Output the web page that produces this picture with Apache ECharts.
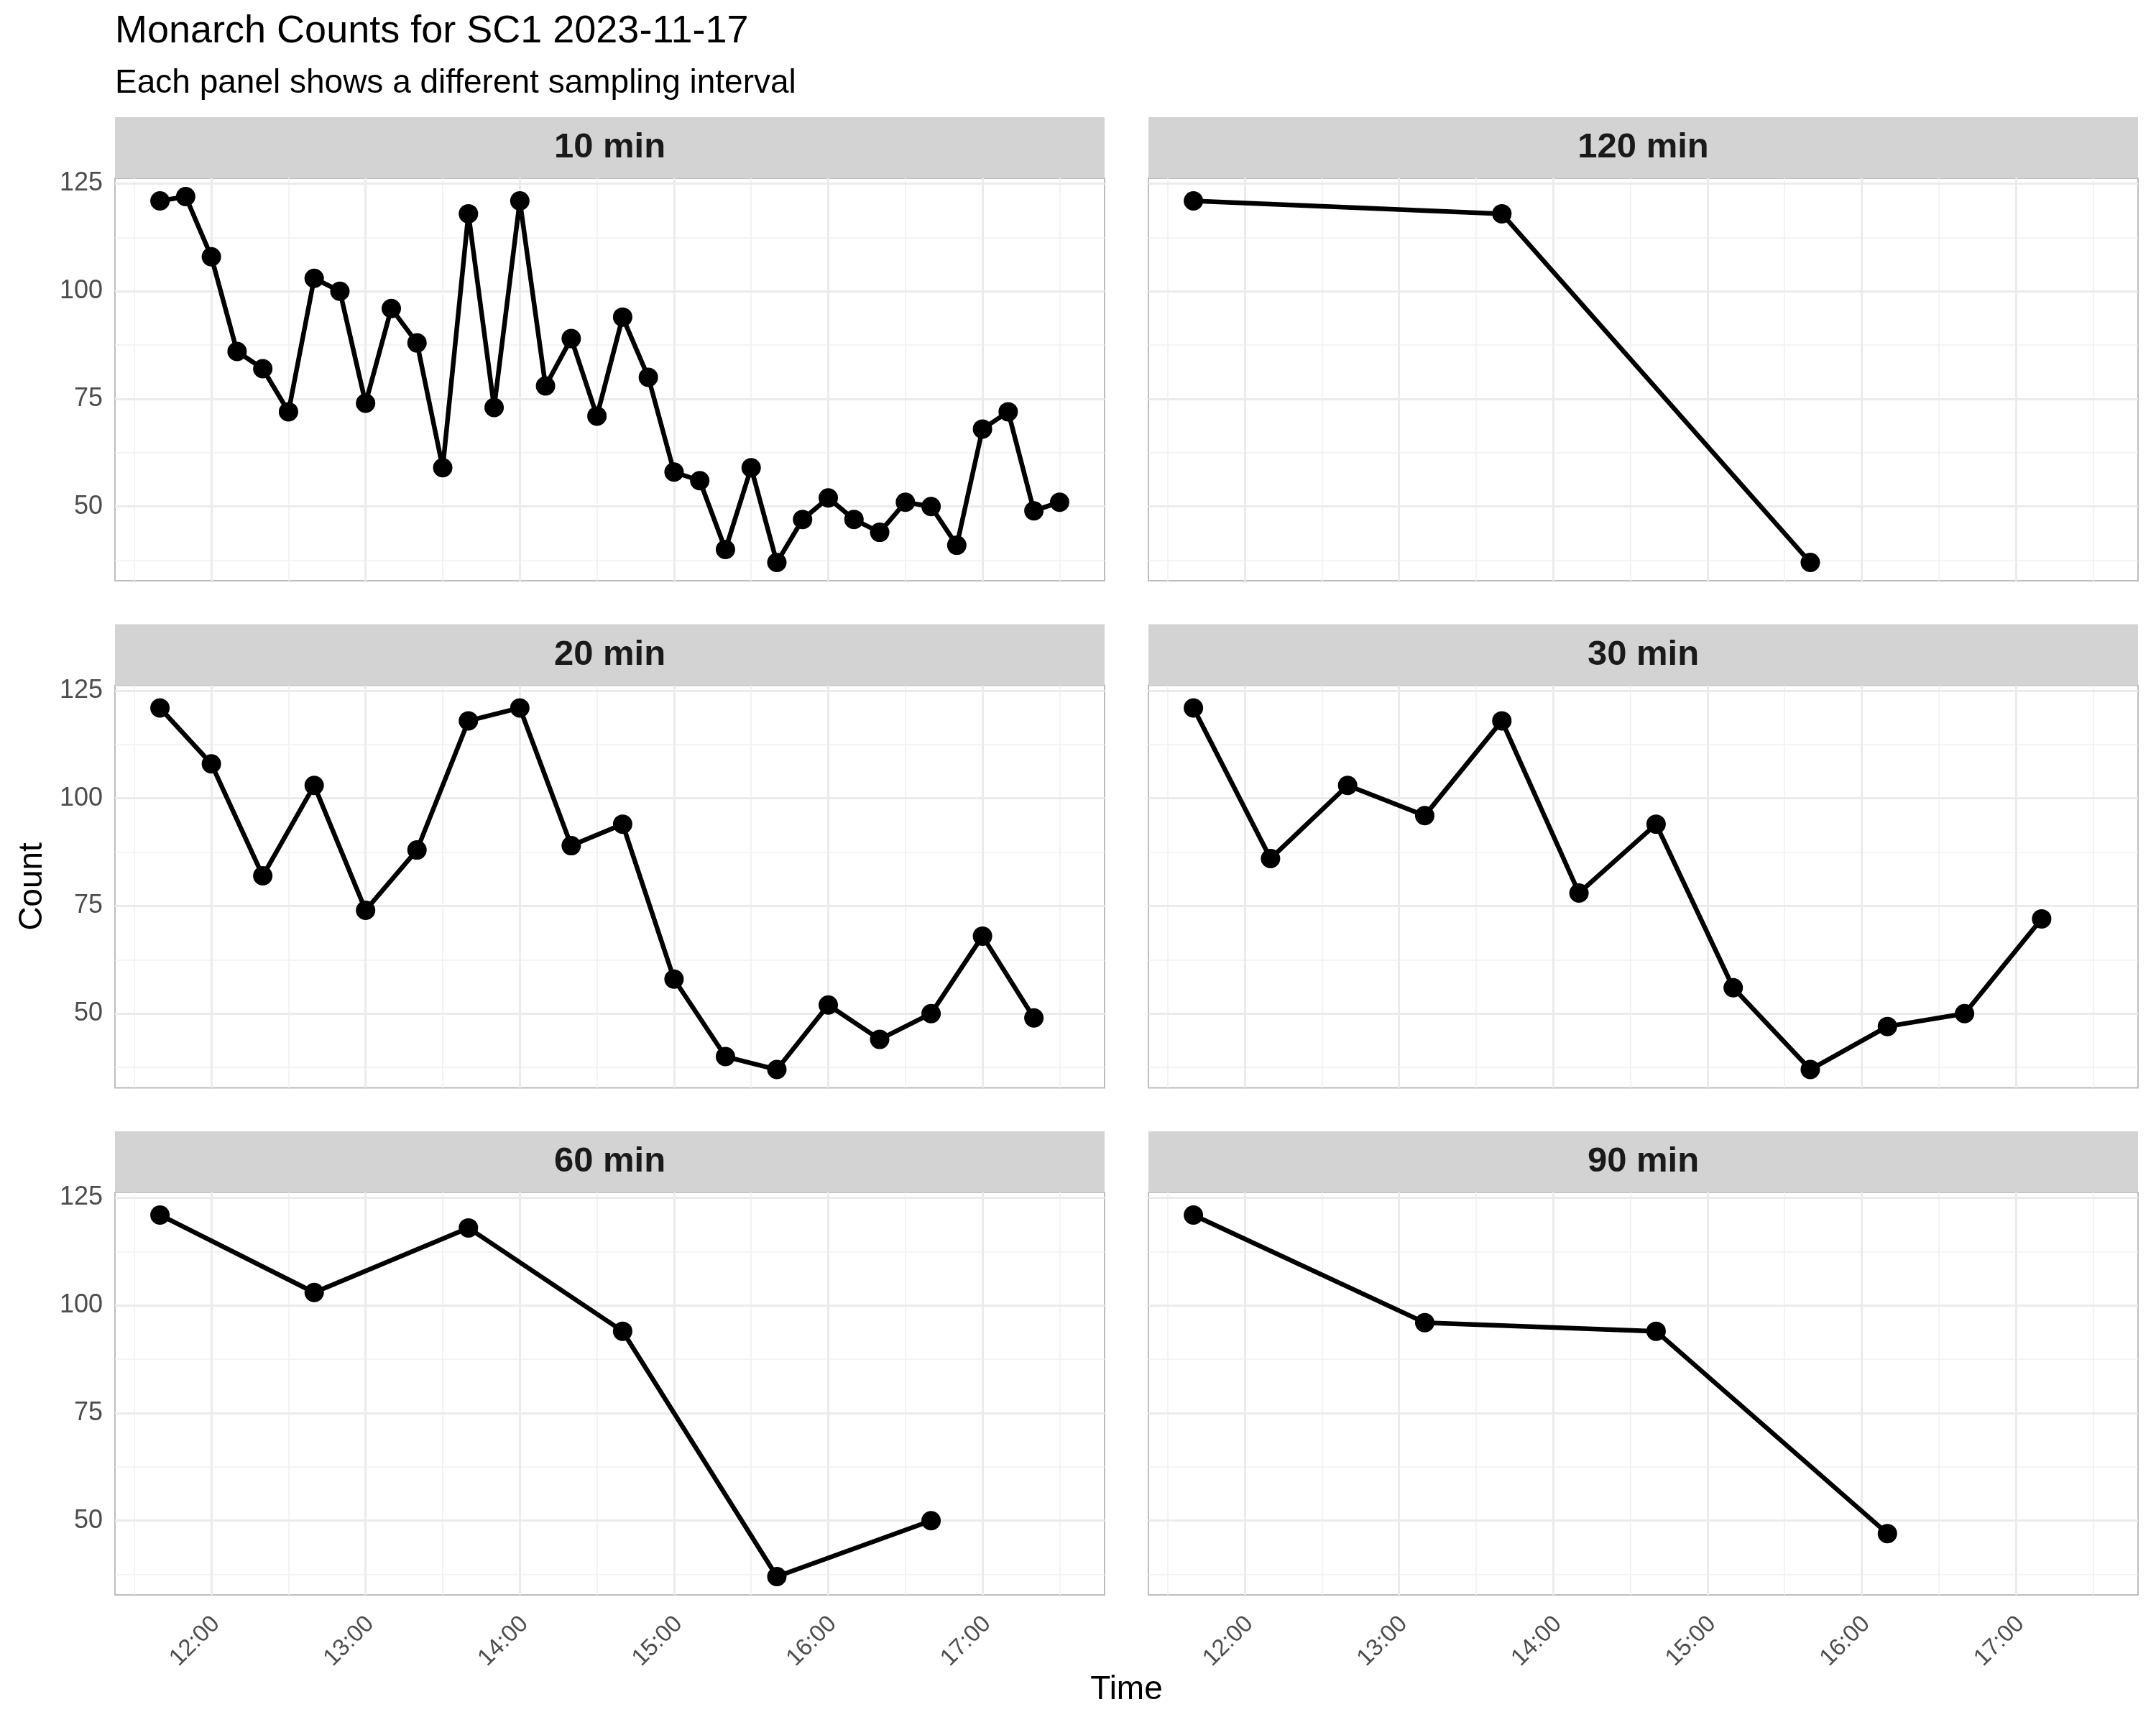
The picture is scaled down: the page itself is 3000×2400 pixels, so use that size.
<!DOCTYPE html>
<html><head><meta charset="utf-8">
<script src="https://cdn.jsdelivr.net/npm/echarts@6/dist/echarts.min.js"></script>
<style>html,body{margin:0;padding:0;background:#fff}#c{width:3000px;height:2400px}</style>
</head><body><div id="c"></div>
<script>
// ---------------- data ----------------
const titleText = 'Monarch Counts for SC1 2023-11-17';
const subtitleText = 'Each panel shows a different sampling interval';
const xAxisTitle = 'Time';
const yAxisTitle = 'Count';

const panelNames = ['10 min', '120 min', '20 min', '30 min', '60 min', '90 min'];

const times10 = ['11:40','11:50','12:00','12:10','12:20','12:30','12:40','12:50','13:00','13:10','13:20','13:30',
                 '13:40','13:50','14:00','14:10','14:20','14:30','14:40','14:50','15:00','15:10','15:20','15:30',
                 '15:40','15:50','16:00','16:10','16:20','16:30','16:40','16:50','17:00','17:10','17:20','17:30'];
const counts10 = [121,122,108,86,82,72,103,100,74,96,88,59,
                  118,73,121,78,89,71,94,80,58,56,40,59,
                  37,47,52,47,44,51,50,41,68,72,49,51];

const times120 = ['11:40','13:40','15:40'];
const counts120 = [121,118,37];

const times20 = ['11:40','12:00','12:20','12:40','13:00','13:20','13:40','14:00','14:20','14:40','15:00','15:20',
                 '15:40','16:00','16:20','16:40','17:00','17:20'];
const counts20 = [121,108,82,103,74,88,118,121,89,94,58,40,37,52,44,50,68,49];

const times30 = ['11:40','12:10','12:40','13:10','13:40','14:10','14:40','15:10','15:40','16:10','16:40','17:10'];
const counts30 = [121,86,103,96,118,78,94,56,37,47,50,72];

const times60 = ['11:40','12:40','13:40','14:40','15:40','16:40'];
const counts60 = [121,103,118,94,37,50];

const times90 = ['11:40','13:10','14:40','16:10'];
const counts90 = [121,96,94,47];

const xTickLabels = ['12:00','13:00','14:00','15:00','16:00','17:00'];
const xMinorTicks = ['11:30','12:30','13:30','14:30','15:30','16:30','17:30'];
const yTickValues = [50, 75, 100, 125];
const yMinorValues = [37.5, 62.5, 87.5, 112.5];

// ---------------- helpers ----------------
const toMin = s => { const p = s.split(':').map(Number); return p[0] * 60 + p[1]; };
const fmt = v => { const h = Math.floor(v / 60), m = Math.round(v - h * 60); return h + ':' + (m < 10 ? '0' : '') + m; };

const panelTimes = [times10, times120, times20, times30, times60, times90];
const panelCounts = [counts10, counts120, counts20, counts30, counts60, counts90];

// ggplot-like 5% expansion of the shared scales
const allT = [].concat(...panelTimes).map(toMin);
const allC = [].concat(...panelCounts);
const tMin = Math.min(...allT), tMax = Math.max(...allT);
const cMin = Math.min(...allC), cMax = Math.max(...allC);
const xMin = tMin - 0.05 * (tMax - tMin), xMax = tMax + 0.05 * (tMax - tMin);
const yMin = cMin - 0.05 * (cMax - cMin), yMax = cMax + 0.05 * (cMax - cMin);

const xMajorVals = xTickLabels.map(toMin);
const xMinorVals = xMinorTicks.map(toMin);

// ---------------- layout ----------------
const FONT = 'Liberation Sans';
const colLeft = [160, 1598];
const colWidth = 1377;
const panelTop = [248, 953.5, 1659];
const panelH = 560;
const stripH = 85;

const grids = [], xAxes = [], yAxes = [], series = [], graphics = [];

panelNames.forEach((name, i) => {
  const row = Math.floor(i / 2), col = i % 2;
  const left = colLeft[col], top = panelTop[row];
  grids.push({
    left: left, top: top, width: colWidth, height: panelH,
    show: true, borderColor: '#BDBDBD', borderWidth: 2, backgroundColor: 'transparent'
  });
  // major x axis
  xAxes.push({
    type: 'value', gridIndex: i, min: xMin, max: xMax, z: 1,
    axisLine: { show: false },
    axisTick: { show: false, customValues: xMajorVals },
    splitLine: { show: true, lineStyle: { color: '#EBEBEB', width: 3 } },
    axisLabel: {
      show: row === 2, customValues: xMajorVals, formatter: v => fmt(v),
      rotate: 45, fontSize: 33, color: '#4D4D4D', fontFamily: FONT, margin: 29,
      verticalAlign: 'top', lineHeight: 18
    }
  });
  // minor x axis (grid only)
  xAxes.push({
    type: 'value', gridIndex: i, min: xMin, max: xMax, z: 0, position: 'bottom',
    axisLine: { show: false },
    axisTick: { show: false, customValues: xMinorVals },
    axisLabel: { show: false },
    splitLine: { show: true, lineStyle: { color: '#F0F0F0', width: 1.6 } }
  });
  // major y axis
  yAxes.push({
    type: 'value', gridIndex: i, min: yMin, max: yMax, z: 1,
    axisLine: { show: false },
    axisTick: { show: false, customValues: yTickValues },
    splitLine: { show: true, lineStyle: { color: '#EBEBEB', width: 3 } },
    axisLabel: {
      show: col === 0, customValues: yTickValues,
      fontSize: 36, color: '#4D4D4D', fontFamily: FONT, margin: 17
    }
  });
  // minor y axis
  yAxes.push({
    type: 'value', gridIndex: i, min: yMin, max: yMax, z: 0, position: 'left',
    axisLine: { show: false },
    axisTick: { show: false, customValues: yMinorValues },
    axisLabel: { show: false },
    splitLine: { show: true, lineStyle: { color: '#F0F0F0', width: 1.6 } }
  });

  series.push({
    name: name, type: 'line', xAxisIndex: 2 * i, yAxisIndex: 2 * i,
    data: panelTimes[i].map((t, j) => [toMin(t), panelCounts[i][j]]),
    symbol: 'circle', symbolSize: 27, showSymbol: true,
    lineStyle: { color: '#000000', width: 6.5 },
    itemStyle: { color: '#000000' },
    z: 5, animation: false
  });

  // facet strip
  graphics.push({
    type: 'rect', shape: { x: left, y: top - stripH, width: colWidth, height: stripH },
    style: { fill: '#D3D3D3' }, z: 10
  });
  graphics.push({
    type: 'text', x: left + colWidth / 2, y: top - stripH / 2, z: 11,
    style: { text: name, font: 'bold 49px "' + FONT + '"', fill: '#1A1A1A', align: 'center', verticalAlign: 'middle' }
  });
});

// axis titles
graphics.push({
  type: 'text', x: (colLeft[0] + colLeft[1] + colWidth) / 2, y: 2351, z: 11,
  style: { text: xAxisTitle, font: '46px "' + FONT + '"', fill: '#000000', align: 'center', verticalAlign: 'middle' }
});
graphics.push({
  type: 'text', x: 45, y: (panelTop[0] + panelTop[2] + panelH) / 2, rotation: Math.PI / 2, z: 11,
  style: { text: yAxisTitle, font: '46px "' + FONT + '"', fill: '#000000', align: 'center', verticalAlign: 'middle' }
});

const chart = echarts.init(document.getElementById('c'), null, { renderer: 'canvas' });
chart.setOption({
  backgroundColor: '#FFFFFF',
  animation: false,
  title: [
    { text: titleText, left: 160, top: 17, padding: 0,
      textStyle: { fontSize: 54, fontWeight: 'normal', color: '#000000', fontFamily: FONT } },
    { text: subtitleText, left: 160, top: 93, padding: 0,
      textStyle: { fontSize: 46, fontWeight: 'normal', color: '#000000', fontFamily: FONT } }
  ],
  grid: grids,
  xAxis: xAxes,
  yAxis: yAxes,
  series: series,
  graphic: graphics
});
</script>
</body></html>
